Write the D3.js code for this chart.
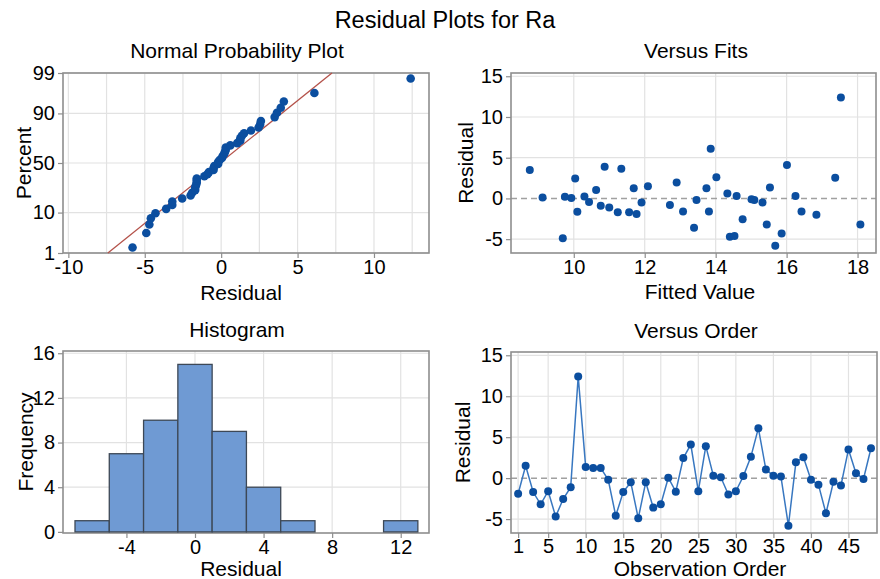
<!DOCTYPE html>
<html>
<head>
<meta charset="utf-8">
<script src="https://cdn.jsdelivr.net/npm/d3@7"></script>
<style>
body { margin: 0; background: #fff; }
svg text { font-family: "Liberation Sans", Arial, sans-serif; fill: #000; }
</style>
</head>
<body>
<div id="chart"></div>
<script>
// residuals in observation order, and the fitted value for each observation
residuals = [-1.9, 1.5, -1.7, -3.2, -1.6, -4.7, -2.55, -1.1, 12.4, 1.35,
             1.25, 1.25, -0.2, -4.6, -1.7, -0.5, -4.9, -0.5, -3.6, -3.2,
             0.05, -1.65, 2.45, 4.1, -1.6, 3.9, 0.3, 0.1, -2.0, -1.6,
             0.25, 2.6, 6.1, 1.05, 0.3, 0.2, -5.8, 1.95, 2.55, -0.2,
             -0.8, -4.3, -0.45, -0.9, 3.5, 0.6, -0.1, 3.65];
fits = [11.77, 12.09, 11.24, 15.44, 13.08, 14.40, 14.76, 11.00, 17.53, 15.53,
        11.69, 13.74, 13.46, 14.53, 11.56, 11.91, 9.69, 15.32, 13.39, 18.08,
        9.93, 10.10, 10.04, 16.01, 13.81, 10.87, 14.59, 9.12, 16.84, 16.42,
        10.30, 14.02, 13.86, 10.63, 16.25, 9.75, 15.68, 12.90, 17.37, 15.09,
        12.71, 15.86, 10.43, 10.76, 8.76, 14.33, 15.01, 11.34];

// histogram bins (start of each bin, width 2) and counts
histBinStart = [-7, -5, -3, -1, 1, 3, 5, 7, 9, 11];
histCounts = [1, 7, 10, 15, 9, 4, 1, 0, 0, 1];
histBinWidth = 2;

// tick values
normPctTicks = [1, 10, 50, 90, 99];
normXTicks = [-10, -5, 0, 5, 10];
fitsXTicks = [10, 12, 14, 16, 18];
residTicks = [-5, 0, 5, 10, 15];
histXTicks = [-4, 0, 4, 8, 12];
histYTicks = [0, 4, 8, 12, 16];
orderTicks = [1, 5, 10, 15, 20, 25, 30, 35, 40, 45];

let pointColor = '#0b4e9f';
let gridColor = '#e2e2e2';
let frameColor = '#8e8e8e';
let fmt = d => String(d); // plain hyphen minus like the original

// inverse normal cdf (Acklam)
function qnorm(p) {
    let a = [-39.69683028665376, 220.9460984245205, -275.9285104469687, 138.3577518672690, -30.66479806614716, 2.506628277459239];
    let b = [-54.47609879822406, 161.5858368580409, -155.6989798598866, 66.80131188771972, -13.28068155288572];
    let c = [-0.007784894002430293, -0.3223964580411365, -2.400758277161838, -2.549732539343734, 4.374664141464968, 2.938163982698783];
    let d = [0.007784695709041462, 0.3224671290700398, 2.445134137142996, 3.754408661907416];
    let plow = 0.02425, q, r;
    if (p < plow) {
        q = Math.sqrt(-2 * Math.log(p));
        return (((((c[0]*q+c[1])*q+c[2])*q+c[3])*q+c[4])*q+c[5]) / ((((d[0]*q+d[1])*q+d[2])*q+d[3])*q+1);
    } else if (p > 1 - plow) {
        q = Math.sqrt(-2 * Math.log(1 - p));
        return -(((((c[0]*q+c[1])*q+c[2])*q+c[3])*q+c[4])*q+c[5]) / ((((d[0]*q+d[1])*q+d[2])*q+d[3])*q+1);
    }
    q = p - 0.5;
    r = q * q;
    return (((((a[0]*r+a[1])*r+a[2])*r+a[3])*r+a[4])*r+a[5])*q / (((((b[0]*r+b[1])*r+b[2])*r+b[3])*r+b[4])*r+1);
}

let svg = d3.select('#chart').append('svg')
    .attr('width', 880)
    .attr('height', 579);

svg.append('text')
    .attr('x', 445).attr('y', 28)
    .attr('text-anchor', 'middle')
    .style('font-size', '23.5px')
    .text('Residual Plots for Ra');

function gridX(g, x, f, vals) {
    g.selectAll(null).data(vals).enter().append('line')
        .attr('x1', d => x(d)).attr('x2', d => x(d))
        .attr('y1', f.top).attr('y2', f.bottom)
        .attr('stroke', gridColor).attr('stroke-width', 1.2);
}

function gridY(g, y, f, vals) {
    g.selectAll(null).data(vals).enter().append('line')
        .attr('y1', d => y(d)).attr('y2', d => y(d))
        .attr('x1', f.left).attr('x2', f.right)
        .attr('stroke', gridColor).attr('stroke-width', 1.2);
}

function frame(g, f) {
    g.append('rect')
        .attr('x', f.left).attr('y', f.top)
        .attr('width', f.right - f.left).attr('height', f.bottom - f.top)
        .attr('fill', 'none').attr('stroke', frameColor).attr('stroke-width', 1.6);
}

function styleAxis(a) {
    a.select('.domain').remove();
    a.selectAll('.tick line').attr('stroke', frameColor).attr('stroke-width', 1.2);
    a.selectAll('.tick text').attr('fill', '#000').style('font-size', '20px');
}

function labels(g, f, title, xTitle, yTitle, cx, titleY, xTitleY, yTitleX) {
    g.append('text').attr('x', cx).attr('y', titleY)
        .attr('text-anchor', 'middle').style('font-size', '21px').text(title);
    g.append('text').attr('x', cx + 4).attr('y', xTitleY)
        .attr('text-anchor', 'middle').style('font-size', '21px').text(xTitle);
    g.append('text')
        .attr('transform', `translate(${yTitleX},${(f.top + f.bottom) / 2}) rotate(-90)`)
        .attr('dy', '0.35em')
        .attr('text-anchor', 'middle').style('font-size', '21px').text(yTitle);
}

// ---- Normal probability plot
{
    let f = { left: 63, right: 429, top: 73, bottom: 253 };
    let g = svg.append('g');
    let x = d3.scaleLinear().domain([-10.35, 13.6]).range([f.left, f.right]);
    let y = d3.scaleLinear().domain([qnorm(0.01), qnorm(0.99)]).range([f.bottom, f.top]);

    gridX(g, x, f, d3.range(-10, 13, 2.5));
    gridY(g, y, f, normPctTicks.map(p => qnorm(p / 100)));
    frame(g, f);

    g.append('g').attr('transform', `translate(0,${f.bottom})`)
        .call(d3.axisBottom(x).tickValues(normXTicks).tickFormat(fmt).tickSize(5).tickPadding(2))
        .call(styleAxis);
    g.append('g').attr('transform', `translate(${f.left},0)`)
        .call(d3.axisLeft(y).tickValues(normPctTicks.map(p => qnorm(p / 100)))
            .tickFormat((d, i) => normPctTicks[i]).tickSize(5).tickPadding(3))
        .call(styleAxis);

    let n = residuals.length;
    let sorted = residuals.slice().sort((a, b) => a - b);
    let m = d3.mean(residuals), s = d3.deviation(residuals);
    let zLo = qnorm(0.01), zHi = qnorm(0.99);
    g.append('line')
        .attr('x1', x(m + s * zLo)).attr('y1', y(zLo))
        .attr('x2', x(m + s * zHi)).attr('y2', y(zHi))
        .attr('stroke', '#b4524a').attr('stroke-width', 1.3);

    g.selectAll('.np').data(sorted).enter().append('circle')
        .attr('class', 'np')
        .attr('cx', d => x(d))
        .attr('cy', (d, i) => y(qnorm((i + 1 - 0.3) / (n + 0.4))))
        .attr('r', 4.3)
        .attr('fill', pointColor);

    labels(g, f, 'Normal Probability Plot', 'Residual', 'Percent', 237, 58, 300, 24);
}

// ---- Versus fits
{
    let f = { left: 511, right: 876, top: 73, bottom: 253 };
    let g = svg.append('g');
    let x = d3.scaleLinear().domain([8.23, 18.52]).range([f.left, f.right]);
    let y = d3.scaleLinear().domain([-6.7, 15.4]).range([f.bottom, f.top]);

    gridX(g, x, f, fitsXTicks);
    gridY(g, y, f, residTicks.filter(d => d !== 0));
    g.append('line')
        .attr('x1', f.left).attr('x2', f.right)
        .attr('y1', y(0)).attr('y2', y(0))
        .attr('stroke', '#a0a0a0').attr('stroke-width', 1.5)
        .attr('stroke-dasharray', '6,4');
    frame(g, f);

    g.append('g').attr('transform', `translate(0,${f.bottom})`)
        .call(d3.axisBottom(x).tickValues(fitsXTicks).tickFormat(fmt).tickSize(5).tickPadding(2))
        .call(styleAxis);
    g.append('g').attr('transform', `translate(${f.left},0)`)
        .call(d3.axisLeft(y).tickValues(residTicks).tickFormat(fmt).tickSize(5).tickPadding(3))
        .call(styleAxis);

    g.selectAll('.fp').data(residuals).enter().append('circle')
        .attr('class', 'fp')
        .attr('cx', (d, i) => x(fits[i]))
        .attr('cy', d => y(d))
        .attr('r', 4)
        .attr('fill', pointColor);

    labels(g, f, 'Versus Fits', 'Fitted Value', 'Residual', 696, 58, 299, 466);
}

// ---- Histogram
{
    let f = { left: 63, right: 429, top: 351, bottom: 533 };
    let g = svg.append('g');
    let x = d3.scaleLinear().domain([-7.7, 13.65]).range([f.left, f.right]);
    let y = d3.scaleLinear().domain([-0.1, 16.2]).range([f.bottom, f.top]);

    gridX(g, x, f, histXTicks);
    gridY(g, y, f, histYTicks.filter(d => d > 0));
    frame(g, f);

    g.append('g').attr('transform', `translate(0,${f.bottom})`)
        .call(d3.axisBottom(x).tickValues(histXTicks).tickFormat(fmt).tickSize(5).tickPadding(2))
        .call(styleAxis);
    g.append('g').attr('transform', `translate(${f.left},0)`)
        .call(d3.axisLeft(y).tickValues(histYTicks).tickFormat(fmt).tickSize(5).tickPadding(3))
        .call(styleAxis);

    let bins = histCounts.map((c, i) => ({ start: histBinStart[i], count: c }))
        .filter(b => b.count > 0);
    g.selectAll('.bar').data(bins).enter().append('rect')
        .attr('class', 'bar')
        .attr('x', d => x(d.start))
        .attr('y', d => y(d.count))
        .attr('width', d => x(d.start + histBinWidth) - x(d.start))
        .attr('height', d => y(0) - y(d.count))
        .attr('fill', '#6f9ad3')
        .attr('stroke', '#3d4856')
        .attr('stroke-width', 1.3);

    labels(g, f, 'Histogram', 'Residual', 'Frequency', 237, 337, 576, 26);
}

// ---- Versus order
{
    let f = { left: 511, right: 877, top: 352, bottom: 533 };
    let g = svg.append('g');
    let x = d3.scaleLinear().domain([0.05, 48.8]).range([f.left, f.right]);
    let y = d3.scaleLinear().domain([-6.7, 15.4]).range([f.bottom, f.top]);

    gridX(g, x, f, orderTicks);
    gridY(g, y, f, residTicks.filter(d => d !== 0));
    g.append('line')
        .attr('x1', f.left).attr('x2', f.right)
        .attr('y1', y(0)).attr('y2', y(0))
        .attr('stroke', '#a0a0a0').attr('stroke-width', 1.5)
        .attr('stroke-dasharray', '6,4');
    frame(g, f);

    g.append('g').attr('transform', `translate(0,${f.bottom})`)
        .call(d3.axisBottom(x).tickValues(orderTicks).tickFormat(fmt).tickSize(5).tickPadding(1))
        .call(styleAxis);
    g.append('g').attr('transform', `translate(${f.left},0)`)
        .call(d3.axisLeft(y).tickValues(residTicks).tickFormat(fmt).tickSize(5).tickPadding(3))
        .call(styleAxis);

    let line = d3.line()
        .x((d, i) => x(i + 1))
        .y(d => y(d));
    g.append('path')
        .datum(residuals)
        .attr('d', line)
        .attr('fill', 'none')
        .attr('stroke', '#3877c0')
        .attr('stroke-width', 1.5);

    g.selectAll('.op').data(residuals).enter().append('circle')
        .attr('class', 'op')
        .attr('cx', (d, i) => x(i + 1))
        .attr('cy', d => y(d))
        .attr('r', 4)
        .attr('fill', pointColor);

    labels(g, f, 'Versus Order', 'Observation Order', 'Residual', 696, 338, 576, 463);
}
</script>
</body>
</html>
